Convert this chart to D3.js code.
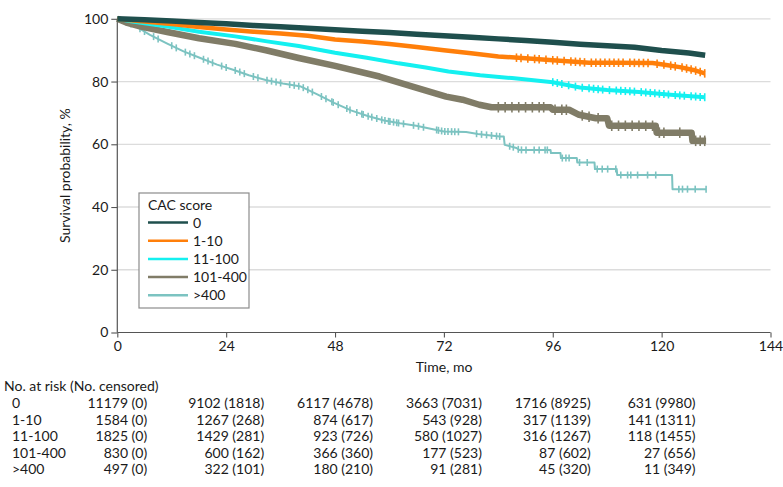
<!DOCTYPE html>
<html><head><meta charset="utf-8">
<script src="https://cdnjs.cloudflare.com/ajax/libs/d3/7.8.5/d3.min.js"></script>
<style>body{margin:0;background:#fff}svg{display:block}text{font-family:Lato,"Open Sans",sans-serif;fill:#1a1a1a}</style>
</head><body><svg id="c" width="783" height="487"></svg>
<script>
// ---------- data ----------
const groups = ["0", "1-10", "11-100", "101-400", ">400"];
const legendTitle = "CAC score";
const yTicks = [0, 20, 40, 60, 80, 100];
const xTicks = [0, 24, 48, 72, 96, 120, 144];
const yLabel = "Survival probability, %";
const xLabel = "Time, mo";

const time0 = [0, 6, 12, 18, 24, 30, 36, 42, 48, 54, 60, 66, 72, 78, 84, 90, 96, 102, 108, 114, 120, 126, 129.6];
const surv0 = [100, 99.7, 99.3, 98.8, 98.4, 97.9, 97.5, 97.0, 96.5, 96.0, 95.6, 95.1, 94.6, 94.1, 93.6, 93.1, 92.5, 91.9, 91.4, 90.9, 89.9, 89.1, 88.4];

const time1 = [0, 3, 6, 12, 18, 24, 30, 36, 42, 48, 54, 60, 66, 72, 78, 84, 90, 96, 100, 104, 110, 118, 121, 124, 127, 129.5];
const surv1 = [100, 99.5, 99.1, 98.3, 97.4, 96.6, 95.9, 95.3, 94.6, 93.4, 92.8, 92.0, 91.0, 90.0, 89.0, 88.0, 87.4, 86.8, 86.4, 86.0, 86.0, 85.9, 85.3, 84.6, 83.7, 82.6];
const cens1 = [88, 89, 90.5, 92, 93, 94.5, 96, 97, 98.5, 100, 101, 102, 103, 104.5, 105.5, 106.5, 107.5, 108.5, 109.5, 110.5, 111.5, 113, 114, 115, 116, 117, 119, 120.5, 122, 123, 124.5, 125.5, 126.5, 127.5, 128.5, 129.5];

const time2 = [0, 3, 6, 11, 18, 26, 33, 40, 48, 55, 62, 68, 73, 80, 87, 96, 102, 108, 115, 122, 129.5];
const surv2 = [100, 99.2, 98.6, 97.5, 95.9, 94.4, 92.8, 91.3, 89.2, 87.6, 85.8, 84.5, 83.2, 82.0, 81.1, 79.8, 78.1, 77.3, 76.7, 75.8, 75.0];
const cens2 = [96, 97, 98, 99.5, 101, 102.5, 104, 105, 106, 107, 108.5, 110, 111, 112, 113, 114, 115.5, 116.5, 117.5, 118.5, 119.5, 120.5, 121.5, 123, 124, 125, 126.5, 127.5, 128.5, 129.5];

const time3 = [0, 2, 5, 11, 18, 26, 33, 40, 48, 57.8, 65.1, 72.5, 76.1, 79.8, 82.5, 95.5, 96, 99.6, 101.8, 105.5, 108, 108.4, 118.7, 118.9, 126.6, 126.8, 129.8];
const surv3 = [100, 98.8, 97.6, 95.8, 93.8, 92.0, 89.9, 87.5, 85.0, 81.6, 78.4, 75.2, 74.2, 72.6, 71.8, 71.8, 71.0, 71.0, 69.4, 68.3, 68.3, 65.9, 65.9, 63.7, 63.7, 61.1, 61.1];
const cens3 = [84, 85.5, 87, 88.5, 90, 91.5, 93, 94, 96.5, 98, 99, 102.5, 104, 106, 109, 110.5, 112, 113.5, 115, 116.5, 118, 119.5, 120.5, 124, 127.5, 128.5, 129.5];

const time4 = [0, 1.5, 3.5, 7.2, 10.9, 14.6, 18.3, 22, 25.7, 29, 32.7, 36.5, 40.5, 44.2, 47.8, 51.5, 55.2, 58.8, 62.3, 65.9, 69.6, 72, 76.9, 79.5, 84.3, 85.2, 85.4, 88, 88.6, 95.5, 95.6, 97.7, 97.8, 101.3, 101.4, 105.2, 105.3, 110.1, 110.2, 122.3, 122.4, 129.8];
const surv4 = [100, 99.2, 98.1, 94.9, 92.2, 89.6, 87.5, 85.4, 83.7, 82.0, 80.5, 79.4, 78.4, 75.8, 73.2, 70.8, 69.0, 67.6, 66.7, 65.9, 64.8, 64.1, 63.9, 63.3, 62.5, 62.5, 59.8, 58.8, 58.2, 58.2, 57.2, 57.2, 55.6, 55.6, 54.2, 54.2, 52.1, 52.1, 50.2, 50.2, 45.7, 45.7];
const cens4 = [1, 2, 3, 5, 6, 8, 9, 12, 13, 15, 16, 17, 19, 20, 21, 23, 24, 26, 27, 28, 30, 31, 33, 34, 35, 36, 38, 39, 40, 41, 42, 43, 45, 46, 47.3, 47.6, 48.7, 50.6, 51.3, 52.8, 53.9, 54.2, 55.3, 56.1, 57.2, 58.3, 59.0, 59.8, 60.1, 60.9, 61.6, 62.0, 63.1, 65.3, 66.4, 67.5, 70.4, 70.8, 71.5, 72.2, 72.9, 73.7, 74.4, 75.2, 79.2, 80.3, 81.4, 82.5, 83.6, 84.3, 86.5, 87.3, 88.4, 89.1, 90.1, 91.9, 93.0, 94.3, 94.8, 98.1, 98.9, 99.6, 101.9, 103.6, 105.8, 106.9, 108.1, 109.9, 111.0, 112.5, 113.2, 114.7, 116.9, 118.7, 123.8, 124.6, 125.7, 127.4, 129.8];

const riskTimes = [0, 24, 48, 72, 96, 120];
const riskHeader = "No. at risk (No. censored)";
const riskRows = [
  ["11179 (0)", "9102 (1818)", "6117 (4678)", "3663 (7031)", "1716 (8925)", "631 (9980)"],
  ["1584 (0)", "1267 (268)", "874 (617)", "543 (928)", "317 (1139)", "141 (1311)"],
  ["1825 (0)", "1429 (281)", "923 (726)", "580 (1027)", "316 (1267)", "118 (1455)"],
  ["830 (0)", "600 (162)", "366 (360)", "177 (523)", "87 (602)", "27 (656)"],
  ["497 (0)", "322 (101)", "180 (210)", "91 (281)", "45 (320)", "11 (349)"]
];

// ---------- styles ----------
const colors = ["#1f4f4d", "#ff7f0a", "#14f0f0", "#807c67", "#7cc3c1"];
const widths = [5.5, 4.5, 4, 6.5, 2];
const series = [
  {t: time0, s: surv0, c: []},
  {t: time1, s: surv1, c: cens1},
  {t: time2, s: surv2, c: cens2},
  {t: time3, s: surv3, c: cens3},
  {t: time4, s: surv4, c: cens4}
];

const svg = d3.select("#c");
const x = d3.scaleLinear().domain([0, 144]).range([117.3, 770.5]);
const y = d3.scaleLinear().domain([0, 100]).range([332.5, 18.8]);
const fs = 14;

// gridlines
svg.append("g").selectAll("line").data(yTicks.filter(d => d > 0)).join("line")
  .attr("x1", x(0)).attr("x2", x(144)).attr("y1", d => y(d)).attr("y2", d => y(d))
  .attr("stroke", "#dcdcdc").attr("stroke-width", 1.3);

// axes
const yAxis = svg.append("g").attr("transform", `translate(${x(0)},0)`)
  .call(d3.axisLeft(y).tickValues(yTicks).tickSize(6).tickPadding(3));
const xAxis = svg.append("g").attr("transform", `translate(0,${y(0)})`)
  .call(d3.axisBottom(x).tickValues(xTicks).tickSize(5).tickPadding(4));
[yAxis, xAxis].forEach(a => {
  a.select(".domain").attr("stroke", "#555").attr("stroke-width", 1.2);
  a.selectAll(".tick line").attr("stroke", "#555").attr("stroke-width", 1.1);
  a.selectAll(".tick text").attr("font-size", fs).attr("font-family", "Lato").attr("fill", "#1a1a1a");
});
yAxis.select(".domain").attr("d", `M0,${y(0)}V${y(100)}`);
xAxis.select(".domain").attr("d", `M${x(0)},0H${x(144)}`);

svg.append("text").attr("transform", `translate(70,${(y(0)+y(100))/2}) rotate(-90)`)
  .attr("text-anchor", "middle").attr("font-size", fs).text(yLabel);
svg.append("text").attr("x", 444).attr("y", 372).attr("text-anchor", "middle")
  .attr("font-size", fs).text(xLabel);

// curves
function survAt(ser, t) {
  for (let i = 1; i < ser.t.length; i++) {
    if (ser.t[i] >= t) {
      const t0 = ser.t[i-1], t1 = ser.t[i];
      const f = t1 === t0 ? 1 : (t - t0) / (t1 - t0);
      return ser.s[i-1] + f * (ser.s[i] - ser.s[i-1]);
    }
  }
  return ser.s[ser.s.length - 1];
}
const line = d3.line().x(d => x(d[0])).y(d => y(d[1]));
const order = [4, 3, 2, 1, 0];
order.forEach(i => {
  const ser = series[i];
  const pts = ser.t.map((t, k) => [t, ser.s[k]]);
  const g = svg.append("g");
  g.append("path").attr("d", line(pts)).attr("fill", "none")
    .attr("stroke", colors[i]).attr("stroke-width", widths[i]).attr("stroke-linejoin", "round");
  const h = i === 4 ? 3.5 : widths[i] / 2 + 2;
  g.selectAll("line").data(ser.c).join("line")
    .attr("x1", d => x(d)).attr("x2", d => x(d))
    .attr("y1", d => y(survAt(ser, d)) - h).attr("y2", d => y(survAt(ser, d)) + h)
    .attr("stroke", colors[i]).attr("stroke-width", 1.6);
});

// legend
const lg = svg.append("g");
lg.append("rect").attr("x", 139).attr("y", 193).attr("width", 110).attr("height", 115)
  .attr("fill", "#fff").attr("stroke", "#8c8c8c").attr("stroke-width", 1.2);
lg.append("text").attr("x", 148).attr("y", 209.5).attr("font-size", fs).text(legendTitle);
groups.forEach((g, i) => {
  const yy = 222.5 + i * 18.2;
  lg.append("line").attr("x1", 148).attr("x2", 188).attr("y1", yy).attr("y2", yy)
    .attr("stroke", colors[i]).attr("stroke-width", 2.5);
  lg.append("text").attr("x", 193).attr("y", yy + 5).attr("font-size", fs).text(g);
});

// risk table
const rt = svg.append("g");
rt.append("text").attr("x", 4).attr("y", 391).attr("font-size", fs).text(riskHeader);
const rowY = [408, 424.5, 441, 457.5, 474];
groups.forEach((g, r) => {
  rt.append("text").attr("x", 12).attr("y", rowY[r]).attr("font-size", fs).text(g);
});
riskTimes.forEach((t, c) => {
  const tmp = riskRows.map(row => rt.append("text").attr("font-size", fs).text(row[c]));
  const maxW = d3.max(tmp, el => el.node().getComputedTextLength());
  tmp.forEach((el, r) => {
    el.attr("x", x(t) + maxW / 2).attr("y", rowY[r]).attr("text-anchor", "end");
  });
});
</script></body></html>
